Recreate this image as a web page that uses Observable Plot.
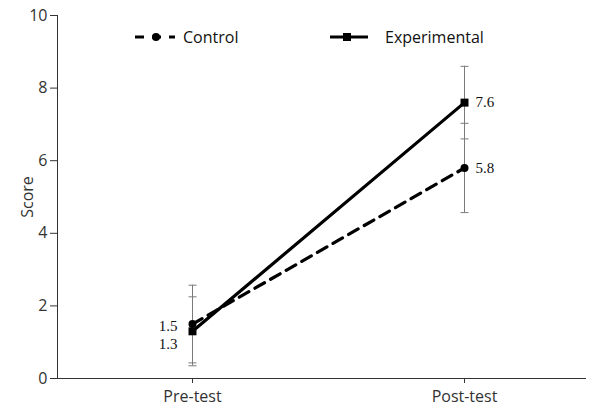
<!DOCTYPE html>
<html><head><meta charset="utf-8">
<script src="https://cdn.jsdelivr.net/npm/d3@7"></script>
<script src="https://cdn.jsdelivr.net/npm/@observablehq/plot@0.6"></script>
<style>
body{margin:0;background:#fff;}
#wrap{position:relative;width:595px;height:408px;}
.leg{position:absolute;top:26px;height:22px;display:flex;align-items:center;font-family:"Open Sans",sans-serif;font-size:16px;color:#111;}
.leg svg{display:block;margin-right:8px;}
</style></head>
<body><div id="wrap"></div>
<script>
const tests = ["Pre-test", "Post-test"];
const seriesNames = ["Control", "Experimental"];
const controlMean = [1.5, 5.8];
const controlLow = [0.43, 4.57];
const controlHigh = [2.57, 7.03];
const expMean = [1.3, 7.6];
const expLow = [0.35, 6.6];
const expHigh = [2.25, 8.6];
const yTicks = [0, 2, 4, 6, 8, 10];

const rows = [];
tests.forEach((t, i) => {
  rows.push({test: t, series: "Control", mean: controlMean[i], low: controlLow[i], high: controlHigh[i]});
  rows.push({test: t, series: "Experimental", mean: expMean[i], low: expLow[i], high: expHigh[i]});
});
const caps = rows.flatMap(d => [{test: d.test, v: d.low}, {test: d.test, v: d.high}]);
const ctrl = rows.filter(d => d.series === "Control");
const expr = rows.filter(d => d.series === "Experimental");

const capSymbol = {draw(ctx) { ctx.moveTo(-4, 0); ctx.lineTo(4, 0); }};

const chart = Plot.plot({
  width: 595, height: 408,
  marginLeft: 57, marginRight: 10, marginTop: 15, marginBottom: 30,
  style: {fontFamily: "'Open Sans', sans-serif", fontSize: "16px", color: "#333", background: "white"},
  x: {type: "point", domain: tests, range: [192, 464], padding: 0, label: null, line: true, tickSize: 5, tickPadding: 7},
  y: {domain: [0, 10], ticks: yTicks, tickFormat: d => String(d), label: "Score", labelAnchor: "center", labelArrow: false, labelOffset: 36, line: true, tickSize: 7, tickPadding: 3},
  marks: [
    Plot.ruleX(rows, {x: "test", y1: "low", y2: "high", stroke: "#7a7a7a", strokeWidth: 1}),
    Plot.dot(caps, {x: "test", y: "v", symbol: capSymbol, stroke: "#7a7a7a", strokeWidth: 1, fill: "none"}),
    Plot.line(ctrl, {x: "test", y: "mean", stroke: "#000", strokeWidth: 3.2, strokeDasharray: "11,7"}),
    Plot.line(expr, {x: "test", y: "mean", stroke: "#000", strokeWidth: 3.2}),
    Plot.dot(ctrl, {x: "test", y: "mean", r: 4, fill: "#000"}),
    Plot.dot(expr, {x: "test", y: "mean", symbol: "square", r: 4.5, fill: "#000"}),
    Plot.text(ctrl.filter(d => d.test === "Pre-test"), {x: "test", y: "mean", text: d => d.mean.toFixed(1), textAnchor: "end", dx: -15, dy: 2, fontFamily: "'Liberation Serif', serif", fontSize: 15, fill: "#111"}),
    Plot.text(expr.filter(d => d.test === "Pre-test"), {x: "test", y: "mean", text: d => d.mean.toFixed(1), textAnchor: "end", dx: -15, dy: 13, fontFamily: "'Liberation Serif', serif", fontSize: 15, fill: "#111"}),
    Plot.text(rows.filter(d => d.test === "Post-test"), {x: "test", y: "mean", text: d => d.mean.toFixed(1), textAnchor: "start", dx: 11, dy: 0, fontFamily: "'Liberation Serif', serif", fontSize: 15, fill: "#111"})
  ]
});

const wrap = document.getElementById("wrap");
wrap.appendChild(chart);

const leg1 = document.createElement("div");
leg1.className = "leg";
leg1.style.left = "135px";
leg1.innerHTML = `<svg width="40" height="12"><line x1="0" y1="6" x2="40" y2="6" stroke="#000" stroke-width="3.2" stroke-dasharray="9,8"/><circle cx="21" cy="6" r="4" fill="#000"/></svg><span>${seriesNames[0]}</span>`;
wrap.appendChild(leg1);

const leg2 = document.createElement("div");
leg2.className = "leg";
leg2.style.left = "330px";
leg2.innerHTML = `<svg width="38" height="12" style="margin-right:17px"><line x1="0" y1="6" x2="38" y2="6" stroke="#000" stroke-width="3.2"/><rect x="13" y="2" width="8" height="8" fill="#000"/></svg><span>${seriesNames[1]}</span>`;
wrap.appendChild(leg2);
</script>
</body></html>
